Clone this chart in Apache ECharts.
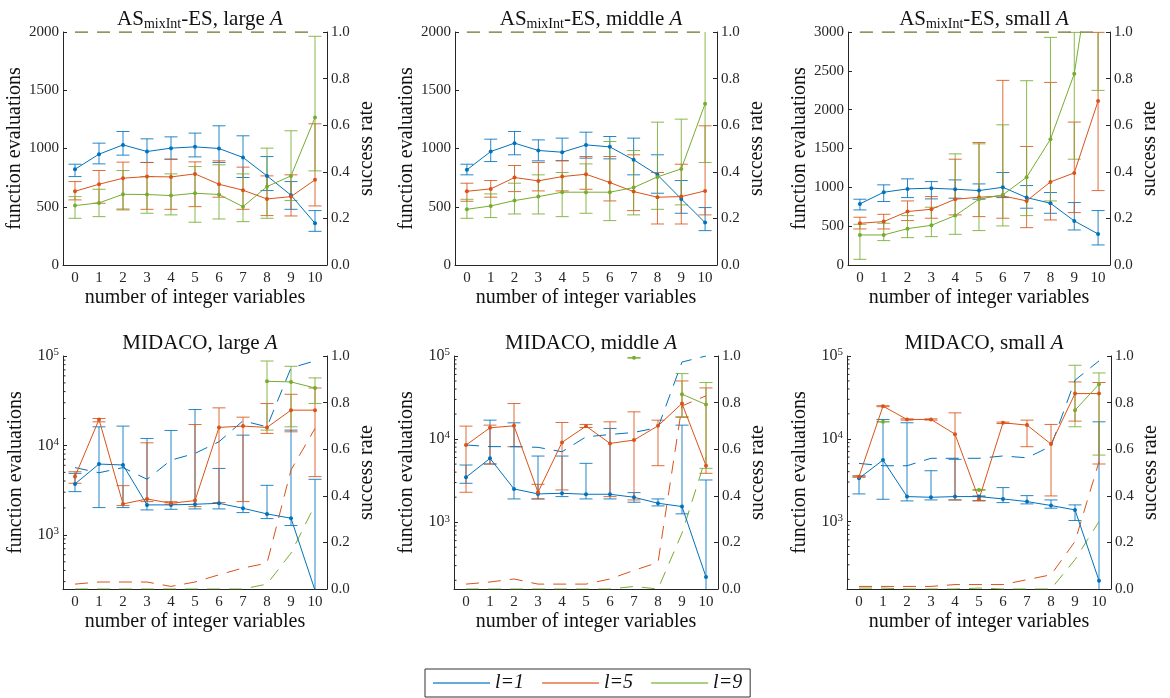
<!DOCTYPE html>
<html>
<head>
<meta charset="utf-8">
<script src="https://cdn.jsdelivr.net/npm/echarts@6/dist/echarts.min.js"></script>
<style>
  html, body { margin: 0; padding: 0; background: #fff; }
  #chart { width: 1170px; height: 698px; }
</style>
</head>
<body>
<div id="chart"></div>
<script>
// x categories: number of integer variables
const cats = ['0', '1', '2', '3', '4', '5', '6', '7', '8', '9', '10'];
const names = ['l=1', 'l=5', 'l=9'];
const N = null;

// AS_mixInt-ES, large A  (rows: l=1, l=5, l=9)
const asLargeMean = [
  [822, 951, 1031, 974, 1003, 1014, 1000, 923, 765, 599, 358],
  [633, 693, 745, 759, 756, 782, 693, 642, 567, 587, 731],
  [510, 533, 607, 605, 596, 616, 605, 501, 673, 765, 1266]
];
const asLargeLow = [
  [759, 868, 943, 880, 908, 928, 880, 751, 639, 478, 289],
  [559, 530, 473, 478, 478, 501, 582, 478, 424, 421, 507],
  [401, 415, 481, 444, 430, 367, 395, 372, 401, 553, 808]
];
const asLargeHigh = [
  [865, 1046, 1146, 1083, 1100, 1132, 1195, 1109, 931, 716, 467],
  [716, 811, 883, 880, 908, 885, 894, 840, 765, 774, 1212],
  [587, 650, 811, 759, 782, 845, 860, 782, 1003, 1152, 1963]
];
const asLargeRate = [
  [1, 1, 1, 1, 1, 1, 1, 1, 1, 1, 1],
  [1, 1, 1, 1, 1, 1, 1, 1, 1, 1, 1],
  [1, 1, 1, 1, 1, 1, 1, 1, 1, 1, 1]
];

// AS_mixInt-ES, middle A
const asMiddleMean = [
  [817, 974, 1046, 983, 968, 1031, 1014, 903, 774, 567, 364],
  [633, 653, 751, 722, 759, 779, 708, 630, 582, 587, 636],
  [478, 507, 553, 587, 625, 625, 625, 665, 756, 825, 1384]
];
const asMiddleLow = [
  [774, 888, 946, 894, 894, 917, 911, 774, 616, 444, 295],
  [547, 582, 630, 636, 636, 650, 550, 467, 352, 352, 430],
  [401, 407, 438, 438, 415, 444, 381, 430, 478, 516, 880]
];
const asMiddleHigh = [
  [865, 1080, 1146, 1074, 1089, 1140, 1103, 1089, 946, 725, 493],
  [702, 725, 854, 880, 897, 931, 931, 946, 794, 865, 1195],
  [564, 610, 702, 774, 794, 868, 1060, 983, 1226, 1252, 2150]
];
const asMiddleRate = asLargeRate;

// AS_mixInt-ES, small A
const asSmallMean = [
  [787, 937, 980, 989, 976, 958, 1001, 868, 795, 567, 400],
  [537, 559, 688, 718, 847, 872, 890, 825, 1070, 1186, 2110],
  [387, 387, 468, 511, 636, 847, 903, 1130, 1620, 2463, 4450]
];
const asSmallLow = [
  [709, 817, 868, 851, 860, 847, 868, 731, 666, 451, 258],
  [464, 464, 572, 602, 645, 623, 602, 481, 580, 675, 958],
  [73, 314, 352, 365, 395, 443, 503, 636, 825, 1362, 2248]
];
const asSmallHigh = [
  [847, 1032, 1109, 1074, 1096, 1044, 1191, 1023, 933, 804, 701],
  [615, 653, 825, 881, 1362, 1577, 2377, 1526, 2351, 1840, 2995],
  [524, 537, 636, 744, 1431, 1560, 1805, 2373, 2931, 2995, 6650]
];
const asSmallRate = asLargeRate;

// MIDACO, large A
const miLargeMean = [
  [3710, 6190, 6040, 2162, 2162, 2198, 2254, 1982, 1714, 1534, 240],
  [4480, 19500, 2217, 2519, 2254, 2415, 15900, 16440, 15900, 24800, 24800],
  [N, N, N, N, N, N, N, N, 52100, 51300, 43900]
];
const miLargeLow = [
  [3043, 2018, 2018, 1900, 1931, 1950, 1950, 1774, 1520, 1271, 150],
  [3770, 18350, 2125, 2354, 2200, 2070, 2295, 2354, 13620, 14200, 4480],
  [N, N, N, N, N, N, N, N, 14830, 16150, 29400]
];
const miLargeHigh = [
  [4870, 16150, 16440, 11970, 14700, 25200, 5530, 13030, 3580, 14830, 4180],
  [5080, 20000, 3550, 10700, 2350, 17130, 26300, 20700, 29400, 37300, 43900],
  [N, N, N, N, N, N, N, N, 87900, 76700, 56900]
];
const miLargeRate = [
  [0.521, 0.499, 0.521, 0.471, 0.553, 0.582, 0.632, 0.722, 0.696, 0.949, 0.979],
  [0.021, 0.030, 0.030, 0.030, 0.011, 0.030, 0.061, 0.090, 0.111, 0.511, 0.689],
  [0, 0, 0, 0, 0, 0, 0, 0, 0.021, 0.154, 0.361]
];

// MIDACO, middle A
const miMiddleMean = [
  [3467, 5861, 2512, 2188, 2228, 2168, 2168, 1995, 1690, 1542, 219],
  [8470, 13680, 14450, 2291, 9120, 14320, 8870, 9730, 14450, 26800, 4786],
  [N, N, N, N, N, N, N, 95000, N, 34700, 26060]
];
const miMiddleLow = [
  [2938, 5012, 1905, 1905, 2032, 1905, 1905, 1738, 1570, 1259, 100],
  [2291, 5012, 8090, 1905, 2443, 13800, 2032, 1854, 4786, 18540, 3873],
  [N, N, N, N, N, N, N, 94000, N, 18200, 4446]
];
const miMiddleHigh = [
  [4875, 16900, 15700, 6250, 6250, 5105, 13430, 2270, 1905, 14720, 3221],
  [14320, 14720, 26800, 2858, 15850, 15000, 16140, 21280, 16900, 50100, 41300],
  [N, N, N, N, N, N, N, 96000, N, 61400, 47900]
];
const miMiddleRate = [
  [0.618, 0.611, 0.611, 0.608, 0.589, 0.653, 0.663, 0.672, 0.693, 0.974, 1.0],
  [0.021, 0.030, 0.043, 0.021, 0.021, 0.021, 0.043, 0.080, 0.114, 0.786, 0.829],
  [0, 0, 0, 0, 0, 0, 0, 0.011, 0, 0.240, 0.565]
];

// MIDACO, small A
const miSmallMean = [
  [3327, 5530, 2001, 1963, 2001, 2001, 1875, 1742, 1560, 1382, 193],
  [3483, 24780, 17100, 17100, 11370, 1857, 15600, 14620, 8630, 35150, 35150],
  [N, 16030, N, N, N, 2410, N, N, N, 22130, 45600]
];
const miSmallLow = [
  [2155, 1857, 1774, 1823, 1823, 1790, 1693, 1633, 1449, 1028, 100],
  [3420, 24400, 16800, 16800, 1823, 1774, 15300, 8020, 2037, 16330, 4955],
  [N, 15900, N, N, N, 2380, N, N, N, 13960, 6350]
];
const miSmallHigh = [
  [3550, 17100, 15600, 4110, 5640, 2037, 2570, 2055, 1823, 1588, 16030],
  [3550, 25100, 17400, 17400, 20560, 2001, 15900, 16790, 14890, 48600, 47800],
  [N, 16200, N, N, N, 2440, N, N, N, 77300, 62400]
];
const miSmallRate = [
  [0.539, 0.529, 0.529, 0.561, 0.561, 0.561, 0.571, 0.563, 0.613, 0.896, 0.979],
  [0.011, 0.011, 0.011, 0.011, 0.019, 0.019, 0.019, 0.040, 0.061, 0.204, 0.546],
  [0.004, 0.004, 0, 0, 0, 0.004, 0, 0, 0, 0.126, 0.290]
];

// minor ticks of the log axes
const minorTickValues = [200, 300, 400, 500, 600, 700, 800, 900,
  2000, 3000, 4000, 5000, 6000, 7000, 8000, 9000,
  20000, 30000, 40000, 50000, 60000, 70000, 80000, 90000];

const colors = ['#0072BD', '#D95319', '#77AC30'];
const FONT = 'Liberation Serif';
const INK = '#262626';

const panels = [
  { title: 'AS{sub|mixInt}-ES, large {it|A}', left: 63, top: 32, width: 264, max: 2000, log: false,
    mean: asLargeMean, low: asLargeLow, high: asLargeHigh, rate: asLargeRate },
  { title: 'AS{sub|mixInt}-ES, middle {it|A}', left: 455, top: 32, width: 262, max: 2000, log: false,
    mean: asMiddleMean, low: asMiddleLow, high: asMiddleHigh, rate: asMiddleRate },
  { title: 'AS{sub|mixInt}-ES, small {it|A}', left: 848, top: 32, width: 262, max: 3000, log: false,
    mean: asSmallMean, low: asSmallLow, high: asSmallHigh, rate: asSmallRate },
  { title: 'MIDACO, large {it|A}', left: 63, top: 356, width: 264, min: 248, max: 100000, log: true,
    mean: miLargeMean, low: miLargeLow, high: miLargeHigh, rate: miLargeRate },
  { title: 'MIDACO, middle {it|A}', left: 454, top: 356, width: 264, min: 157, max: 100000, log: true,
    mean: miMiddleMean, low: miMiddleLow, high: miMiddleHigh, rate: miMiddleRate },
  { title: 'MIDACO, small {it|A}', left: 847, top: 356, width: 264, min: 153, max: 100000, log: true,
    mean: miSmallMean, low: miSmallLow, high: miSmallHigh, rate: miSmallRate }
];
const H = 233;

function errBar(color) {
  return function (params, api) {
    const cs = params.coordSys;
    const i = api.value(0);
    const p1 = api.coord([i, api.value(1)]);
    const p2 = api.coord([i, api.value(2)]);
    const yTop = cs.y, yBot = cs.y + cs.height;
    const style = { stroke: color, lineWidth: 1, opacity: 0.85 };
    const ch = [];
    const a = Math.min(Math.max(p1[1], yTop), yBot);
    const b = Math.min(Math.max(p2[1], yTop), yBot);
    ch.push({ type: 'line', shape: { x1: p1[0], y1: a, x2: p1[0], y2: b }, style: style });
    const w = 6.5;
    [p1, p2].forEach(function (p) {
      if (p[1] >= yTop - 0.5 && p[1] <= yBot + 0.5) {
        ch.push({ type: 'line', shape: { x1: p[0] - w, y1: p[1], x2: p[0] + w, y2: p[1] }, style: style });
      }
    });
    return { type: 'group', children: ch };
  };
}

function minorTicks(params, api) {
  const cs = params.coordSys;
  const y = api.coord([0, api.value(1)])[1];
  if (y < cs.y || y > cs.y + cs.height) return;
  return { type: 'line', shape: { x1: cs.x, y1: y, x2: cs.x + 2.5, y2: y }, style: { stroke: INK, lineWidth: 1 } };
}

function powLabel(v) {
  const e = Math.log10(v);
  const r = Math.round(e);
  return Math.abs(e - r) < 1e-6 ? '10{sup|' + r + '}' : '';
}

const grid = [], xAxis = [], yAxis = [], series = [], title = [];
const labelStyle = { fontFamily: FONT, fontSize: 15, color: INK };

panels.forEach(function (p, k) {
  grid.push({ left: p.left, top: p.top, width: p.width, height: H, outerBoundsMode: 'none', containLabel: false });
  title.push({
    text: p.title, left: p.left + p.width / 2, top: p.top - 30, textAlign: 'center',
    textStyle: {
      fontFamily: FONT, fontSize: 21, fontWeight: 'normal', color: '#111', lineHeight: 24,
      rich: {
        sub: { fontFamily: FONT, fontSize: 14, lineHeight: 14, verticalAlign: 'bottom', color: '#111' },
        it: { fontFamily: FONT, fontSize: 21, lineHeight: 24, fontStyle: 'italic', color: '#111' }
      }
    }
  });
  xAxis.push({
    type: 'category', gridIndex: k, data: cats, boundaryGap: true,
    name: 'number of integer variables', nameLocation: 'middle', nameGap: 23,
    nameTextStyle: { fontFamily: FONT, fontSize: 20, color: '#111' },
    axisLine: { lineStyle: { color: INK, width: 1 } },
    axisTick: { inside: true, alignWithLabel: true, length: 4, lineStyle: { color: INK } },
    axisLabel: Object.assign({ margin: 6, interval: 0 }, labelStyle),
    splitLine: { show: false }
  });
  const left = {
    gridIndex: k, position: 'left',
    name: 'function evaluations', nameLocation: 'middle', nameGap: 37, nameRotate: 90,
    nameTextStyle: { fontFamily: FONT, fontSize: 20, color: '#111' },
    axisLine: { show: true, lineStyle: { color: INK, width: 1 } },
    axisTick: { show: true, inside: true, length: 4, lineStyle: { color: INK } },
    splitLine: { show: false }
  };
  if (p.log) {
    Object.assign(left, {
      type: 'log', logBase: 10, min: p.min, max: p.max,
      axisLabel: Object.assign({ margin: 4, formatter: powLabel, lineHeight: 18,
        rich: { sup: { fontFamily: FONT, fontSize: 11, lineHeight: 10, verticalAlign: 'top', color: INK } } },
        labelStyle, { fontSize: 16 })
    });
  } else {
    Object.assign(left, {
      type: 'value', min: 0, max: p.max, interval: 500,
      axisLabel: Object.assign({ margin: 4, formatter: function (v) { return String(v); } }, labelStyle)
    });
  }
  yAxis.push(left);
  yAxis.push({
    type: 'value', gridIndex: k, position: 'right', min: 0, max: 1, interval: 0.2,
    name: 'success rate', nameLocation: 'middle', nameGap: 30, nameRotate: 90,
    nameTextStyle: { fontFamily: FONT, fontSize: 20, color: '#111' },
    axisLine: { show: true, lineStyle: { color: INK, width: 1 } },
    axisTick: { show: true, inside: true, length: 4, lineStyle: { color: INK } },
    axisLabel: Object.assign({ margin: 4, formatter: function (v) { return v.toFixed(1); } }, labelStyle),
    splitLine: { show: false }
  });

  for (let s = 0; s < 3; s++) {
    const bars = [];
    p.low[s].forEach(function (lo, i) {
      if (lo !== null) bars.push([i, lo, p.high[s][i]]);
    });
    series.push({
      type: 'custom', name: 'err ' + names[s], xAxisIndex: k, yAxisIndex: 2 * k,
      renderItem: errBar(colors[s]), data: bars, encode: { x: 0, y: [1, 2] },
      itemStyle: { color: colors[s] }, z: 2, silent: true
    });
  }
  for (let s = 0; s < 3; s++) {
    series.push({
      type: 'line', name: names[s], xAxisIndex: k, yAxisIndex: 2 * k + 1,
      data: p.rate[s], color: colors[s], symbol: 'none',
      lineStyle: { width: 1, type: [13, 9], color: colors[s] }, z: 3, silent: true
    });
  }
  for (let s = 0; s < 3; s++) {
    series.push({
      type: 'line', name: names[s], xAxisIndex: k, yAxisIndex: 2 * k,
      data: p.mean[s], color: colors[s], symbol: 'circle', symbolSize: 4, showSymbol: true,
      lineStyle: { width: 1, color: colors[s] }, itemStyle: { color: colors[s] }, z: 4, silent: true
    });
  }
  if (p.log) {
    series.push({
      type: 'custom', name: 'minor', xAxisIndex: k, yAxisIndex: 2 * k, silent: true,
      renderItem: minorTicks, data: minorTickValues.map(function (v) { return [0, v]; }), z: 5
    });
  }
});

const option = {
  animation: false,
  backgroundColor: '#fff',
  title: title,
  grid: grid,
  xAxis: xAxis,
  yAxis: yAxis,
  legend: {
    data: names.map(function (n) { return { name: n, itemStyle: { opacity: 0.6 } }; }),
    left: 425, top: 669, icon: 'rect', itemWidth: 57, itemHeight: 2, itemGap: 18,
    padding: [4, 8], borderColor: '#333', borderWidth: 1, selectedMode: false,
    textStyle: { fontFamily: FONT, fontStyle: 'italic', fontSize: 20, color: '#111' }
  },
  series: series
};

const chart = echarts.init(document.getElementById('chart'));
chart.setOption(option);
</script>
</body>
</html>
